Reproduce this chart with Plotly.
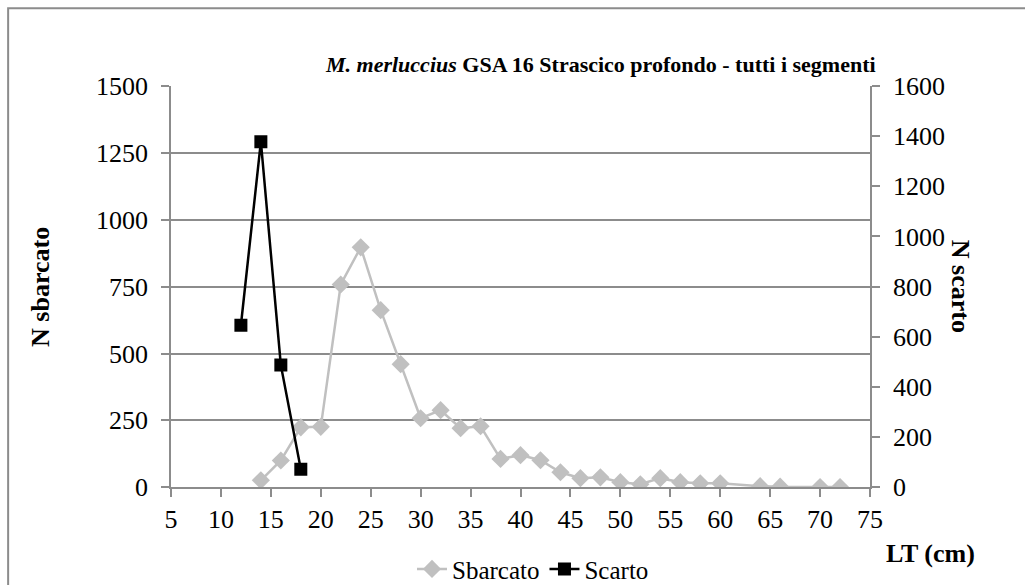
import plotly.graph_objects as go

# lengths (LT, cm) and numbers
lt_sbarcato = [14, 16, 18, 20, 22, 24, 26, 28, 30, 32, 34, 36, 38, 40, 42, 44, 46, 48,
               50, 52, 54, 56, 58, 60, 64, 66, 70, 72]
n_sbarcato = [26, 100, 224, 226, 758, 897, 662, 460, 258, 288, 221, 228, 106, 120, 101, 56,
              34, 37, 19, 11, 34, 19, 15, 15, 4, 2, 1, 1]

lt_scarto = [12, 14, 16, 18]
n_scarto = [646, 1378, 487, 72]

x_ticks = list(range(5, 80, 5))
left_ticks = [0, 250, 500, 750, 1000, 1250, 1500]
right_ticks = [0, 200, 400, 600, 800, 1000, 1200, 1400, 1600]

FONT = "Liberation Serif, Times New Roman, serif"
GRID = "#8c8c8c"
tfont = dict(family=FONT, size=26, color="black")

fig = go.Figure()
fig.add_trace(go.Scatter(
    x=lt_sbarcato, y=n_sbarcato, name="Sbarcato", mode="lines+markers",
    line=dict(color="#c0c0c0", width=2.5),
    marker=dict(symbol="diamond", size=14, color="#c0c0c0"),
))
fig.add_trace(go.Scatter(
    x=lt_scarto, y=n_scarto, name="Scarto", mode="lines+markers", yaxis="y2",
    line=dict(color="black", width=2.5),
    marker=dict(symbol="square", size=13, color="black"),
))

axis_style = dict(zeroline=False, showline=True, linecolor=GRID, linewidth=1.5,
                  ticks="outside", ticklen=8, tickcolor=GRID, tickwidth=1.5, tickfont=tfont)

fig.update_layout(
    width=1025, height=585,
    margin=dict(l=171, r=155, t=86, b=96),
    paper_bgcolor="white", plot_bgcolor="white",
    font=tfont,
    xaxis=dict(range=[5, 75], tickvals=x_ticks, showgrid=False, **axis_style),
    yaxis=dict(range=[0, 1500], tickvals=left_ticks, showgrid=True, gridcolor=GRID,
               gridwidth=1.5, ticklabelstandoff=8, **axis_style),
    yaxis2=dict(range=[0, 1600], tickvals=right_ticks, overlaying="y", side="right",
                showgrid=False, ticklabelstandoff=8, **axis_style),
    legend=dict(orientation="h", xref="container", yref="container",
                x=0.52, xanchor="center", y=0.027, yanchor="middle",
                font=dict(family=FONT, size=25, color="black")),
    showlegend=True,
)

fig.add_annotation(text="<b><i>M. merluccius</i> GSA 16 Strascico profondo - tutti i segmenti</b>",
                   xref="paper", yref="paper", x=0.614, y=1.089, showarrow=False,
                   font=dict(family=FONT, size=22, color="black"))
fig.add_annotation(text="<b>N sbarcato</b>", xref="paper", yref="paper", x=-0.187, y=0.5,
                   xanchor="center", textangle=-90, showarrow=False, font=tfont)
fig.add_annotation(text="<b>N scarto</b>", xref="paper", yref="paper", x=1.13, y=0.5,
                   xanchor="center", textangle=90, showarrow=False, font=tfont)
fig.add_annotation(text="<b>LT (cm)</b>", xref="paper", yref="paper", x=1.02, y=-0.164,
                   xanchor="left", yanchor="middle", showarrow=False, font=tfont)

# outer chart border
fig.add_shape(type="rect", xref="paper", yref="paper", x0=-0.233, x1=1.3, y0=-0.5, y1=1.1935,
              line=dict(color=GRID, width=2), layer="below")

fig.write_html("out.html", config={"displayModeBar": False},
               post_script="document.body.style.margin='0px';")
